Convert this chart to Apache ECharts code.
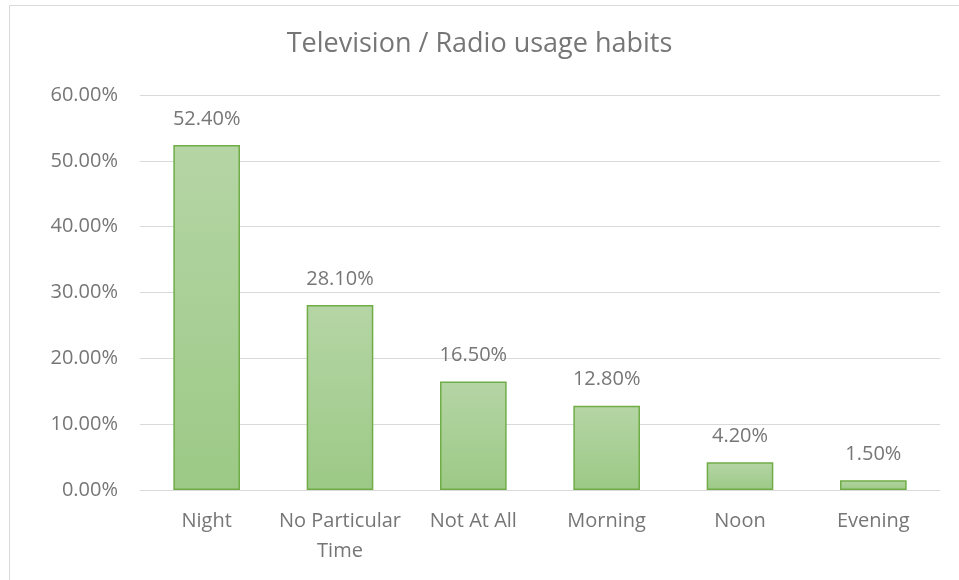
<!DOCTYPE html>
<html>
<head>
<meta charset="utf-8">
<script src="https://cdn.jsdelivr.net/npm/echarts@6/dist/echarts.min.js"></script>
<style>
html, body { margin: 0; padding: 0; background: #fff; }
#main { width: 959px; height: 580px; }
</style>
</head>
<body>
<div id="main"></div>
<script>
const categories = ['Night', 'No Particular\nTime', 'Not At All', 'Morning', 'Noon', 'Evening']
const usage = [52.4, 28.1, 16.5, 12.8, 4.2, 1.5]
const chartTitle = 'Television / Radio usage habits'

const textColor = '#767676'
const fontFamily = '"Open Sans", "Noto Sans", sans-serif'

const chartDom = echarts.init(document.getElementById('main'))
const option = {
  animation: false,
  textStyle: { fontFamily: fontFamily },
  graphic: [
    {
      type: 'rect',
      shape: { x: 9.5, y: 5.5, width: 960, height: 590 },
      style: { fill: 'none', stroke: '#d9d9d9', lineWidth: 1 },
      silent: true,
    },
  ],
  title: {
    text: chartTitle,
    left: 'center',
    top: 26,
    textStyle: { color: textColor, fontSize: 27, fontWeight: 'normal', fontFamily: fontFamily },
  },
  grid: { left: 140, right: 19, top: 95, bottom: 90 },
  xAxis: {
    type: 'category',
    data: categories,
    axisLine: { lineStyle: { color: '#d9d9d9', width: 1 } },
    axisTick: { show: false },
    axisLabel: { color: textColor, fontSize: 20, margin: 16, lineHeight: 30, interval: 0 },
  },
  yAxis: {
    type: 'value',
    min: 0,
    max: 60,
    interval: 10,
    axisLine: { show: false },
    axisTick: { show: false },
    axisLabel: {
      color: textColor,
      fontSize: 20,
      margin: 22,
      formatter: (v) => v.toFixed(2) + '%',
    },
    splitLine: { lineStyle: { color: '#d9d9d9', width: 1 } },
  },
  series: [
    {
      type: 'bar',
      data: usage,
      barWidth: '50%',
      itemStyle: {
        color: new echarts.graphic.LinearGradient(0, 0, 0, 1, [
          { offset: 0, color: '#b5d5a5' },
          { offset: 1, color: '#9cc986' },
        ]),
        borderColor: '#70ad47',
        borderWidth: 1.5,
      },
      label: {
        show: true,
        position: 'top',
        distance: 16,
        color: textColor,
        fontSize: 20,
        formatter: (p) => p.value.toFixed(2) + '%',
      },
    },
  ],
}
chartDom.setOption(option)
</script>
</body>
</html>
